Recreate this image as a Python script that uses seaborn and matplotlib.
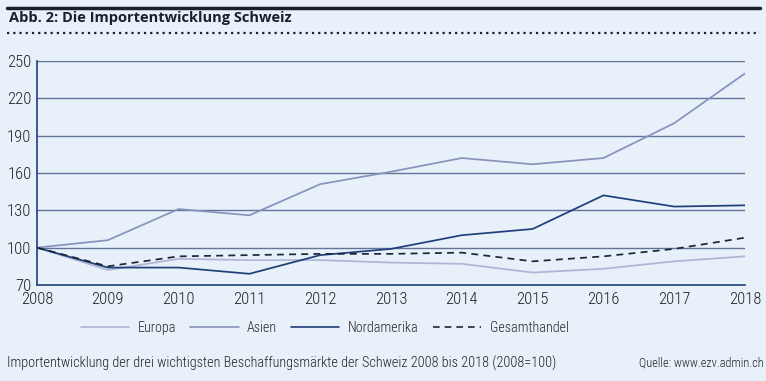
import matplotlib
matplotlib.use("Agg")
import matplotlib.pyplot as plt
import seaborn as sns
import pandas as pd
from matplotlib.lines import Line2D
from matplotlib import font_manager

years = [2008, 2009, 2010, 2011, 2012, 2013, 2014, 2015, 2016, 2017, 2018]
europa = [100, 82, 91, 90, 90, 88, 87, 80, 83, 89, 93]
asien = [100, 106, 131, 126, 151, 161, 172, 167, 172, 200, 240]
nordamerika = [100, 84, 84, 79, 94, 99, 110, 115, 142, 133, 134]
gesamthandel = [100, 85, 93, 94, 95, 95, 96, 89, 93, 99, 108]
series_names = ["Europa", "Asien", "Nordamerika", "Gesamthandel"]
yticks = [70, 100, 130, 160, 190, 220, 250]

title = "Abb. 2: Die Importentwicklung Schweiz"
footnote = "Importentwicklung der drei wichtigsten Beschaffungsmärkte der Schweiz 2008 bis 2018 (2008=100)"
source = "Quelle: www.ezv.admin.ch"

bg = "#e8f0f9"
colors = {"Europa": "#aeb6d6", "Asien": "#8792bd", "Nordamerika": "#1f3f7a", "Gesamthandel": "#1c2738"}
dashes = {"Europa": "", "Asien": "", "Nordamerika": "", "Gesamthandel": (4, 3)}

sns.set_theme(style="white")
avail = {f.name for f in font_manager.fontManager.ttflist}


def pick(prefs):
    for p in prefs:
        if p in avail:
            return p
    return "DejaVu Sans"


narrow = pick(["Roboto Condensed", "Open Sans Condensed", "Barlow Semi Condensed",
               "Archivo Narrow", "Liberation Sans Narrow", "Open Sans"])
plt.rcParams["font.family"] = [narrow, "DejaVu Sans"]
tw = "light" if narrow != "Open Sans" else "normal"

df = pd.DataFrame({"Jahr": years, "Europa": europa, "Asien": asien,
                   "Nordamerika": nordamerika, "Gesamthandel": gesamthandel})
long = df.melt(id_vars="Jahr", var_name="Serie", value_name="Index")

fig = plt.figure(figsize=(7.66, 3.81), dpi=100, facecolor=bg)
ax = fig.add_axes([0.0483, 0.252, 0.9243, 0.588], facecolor=bg)

for ytk in yticks[1:]:
    ax.axhline(ytk, color="#63739a", lw=1.0, zorder=0)

sns.lineplot(data=long, x="Jahr", y="Index", hue="Serie", style="Serie",
             hue_order=series_names, style_order=series_names,
             palette=colors, dashes=dashes, linewidth=1.25, ax=ax, legend=False)

ax.set_xlim(2008, 2018)
ax.set_ylim(70, 250)
ax.set_xticks(years)
ax.set_xticklabels([str(y) for y in years], fontweight=tw)
ax.set_yticks(yticks)
ax.set_yticklabels([str(y) for y in yticks], fontweight=tw)
ax.set_xlabel("")
ax.set_ylabel("")
for s in ["top", "right"]:
    ax.spines[s].set_visible(False)
for s in ["left", "bottom"]:
    ax.spines[s].set_color("#1f3f7a")
    ax.spines[s].set_linewidth(1.2)
ax.tick_params(axis="x", direction="out", length=4, color="#1f3f7a", width=1, labelsize=12, pad=1, labelcolor="#222222")
ax.tick_params(axis="y", length=0, labelsize=12, pad=4, labelcolor="#222222")

handles = [Line2D([], [], color=colors[n], lw=1.2, linestyle=(0, (4, 3)) if n == "Gesamthandel" else "-") for n in series_names]
fig.legend(handles, series_names, loc="center", bbox_to_anchor=(0.424, 0.138), ncol=4,
           frameon=False, handlelength=3.4, columnspacing=1.0, handletextpad=0.6,
           prop={"size": 10.2, "weight": tw})

# header
fig.add_artist(Line2D([0.009, 0.992], [1 - 8 / 381, 1 - 8 / 381], color="#1b1f2a", lw=2.5))
fig.text(0.012, 1 - 18 / 381, title, fontsize=10.5, fontweight="bold", color="#1b1f2a",
         va="center", ha="left", family=["Open Sans", "DejaVu Sans"])
fig.add_artist(Line2D([0.009, 0.992], [1 - 33 / 381, 1 - 33 / 381], color="#1b1f2a", lw=1.6,
                      linestyle=(0, (1, 1.8))))

fig.text(0.009, 1 - 363 / 381, footnote, fontsize=10.3, color="#222222", va="center", ha="left", fontweight=tw)
fig.text(0.997, 1 - 363 / 381, source, fontsize=8.8, color="#222222", va="center", ha="right", fontweight=tw)

fig.savefig("out.png", dpi=100, facecolor=bg)
